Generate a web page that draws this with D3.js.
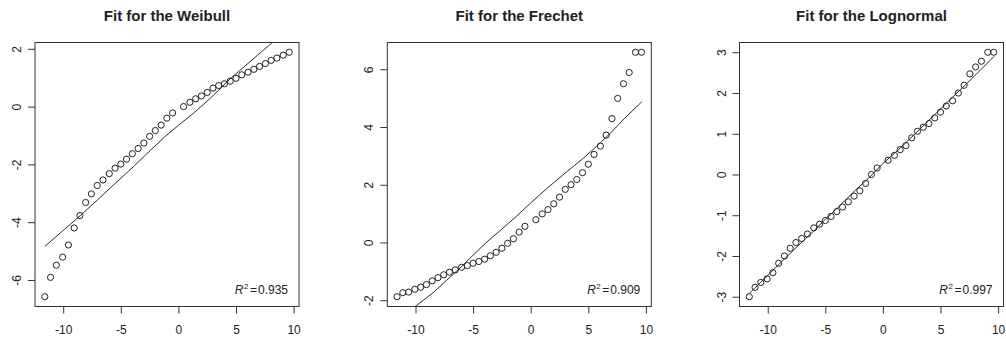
<!DOCTYPE html>
<html>
<head>
<meta charset="utf-8">
<script src="https://cdn.jsdelivr.net/npm/d3@7"></script>
<style>
  body { margin: 0; background: #fff; }
  svg { display: block; font-family: 'Liberation Sans', Arial, sans-serif; }
</style>
</head>
<body>
<div id="chart"></div>
<script>
// sample values (x axis, shared by the three panels)
const sampleX = [-11.6, -11.1, -10.6, -10.05, -9.55, -9.05, -8.55, -8.05, -7.55, -7.05,
  -6.55, -6.0, -5.5, -5.0, -4.5, -4.0, -3.5, -3.0, -2.5, -2.0, -1.5, -1.0, -0.5,
  0.45, 1.0, 1.5, 2.0, 2.5, 3.0, 3.5, 4.0, 4.5, 5.0, 5.5, 6.05, 6.55, 7.05, 7.55,
  8.05, 8.55, 9.1, 9.62];

// theoretical quantiles for each fitted distribution
const weibullY = [-6.58, -5.91, -5.49, -5.21, -4.79, -4.20, -3.77, -3.32, -3.02, -2.73,
  -2.54, -2.32, -2.13, -1.99, -1.82, -1.63, -1.45, -1.26, -1.03, -0.83, -0.64, -0.40,
  -0.22, 0.0, 0.15, 0.27, 0.37, 0.49, 0.64, 0.73, 0.79, 0.88, 0.98, 1.10, 1.19, 1.29,
  1.39, 1.49, 1.60, 1.68, 1.78, 1.88];
const frechetY = [-1.88, -1.74, -1.72, -1.62, -1.55, -1.46, -1.33, -1.22, -1.12, -1.03,
  -0.95, -0.86, -0.80, -0.72, -0.66, -0.58, -0.46, -0.34, -0.20, -0.03, 0.13, 0.36,
  0.56, 0.79, 0.99, 1.14, 1.34, 1.57, 1.84, 2.0, 2.18, 2.42, 2.71, 3.05, 3.34, 3.72,
  4.29, 4.99, 5.50, 5.89, 6.59, 6.59];
const lognormalY = [-3.0, -2.77, -2.65, -2.56, -2.41, -2.18, -2.0, -1.81, -1.67, -1.57,
  -1.46, -1.31, -1.22, -1.13, -1.03, -0.91, -0.80, -0.67, -0.53, -0.40, -0.22, 0.0,
  0.16, 0.35, 0.47, 0.61, 0.71, 0.90, 1.06, 1.16, 1.25, 1.39, 1.53, 1.68, 1.81, 2.0,
  2.19, 2.47, 2.64, 2.78, 3.0, 3.0];

// fitted lines
const lineX = [-11.6, -9.9, -8.5, -7, -5.9, -5, -3.8, -2.4, -1.2, 0, 1.4, 2.8, 4.6, 5.8, 6.9, 8.1, 9.65];
const weibullLine = [-4.84, -4.25, -3.77, -3.22, -2.81, -2.48, -2.04, -1.5, -1.05, -0.65,
  -0.2, 0.3, 1.0, 1.41, 1.79, 2.2, 2.74];
const frechetLine = [-2.7, -2.18, -1.75, -1.2, -0.8, -0.44, 0.02, 0.5, 0.92, 1.37,
  1.87, 2.34, 2.93, 3.36, 3.78, 4.28, 4.88];
const lognormalLine = [-2.92, -2.45, -2.06, -1.65, -1.36, -1.1, -0.78, -0.39, -0.08, 0.27,
  0.62, 1.0, 1.5, 1.83, 2.13, 2.46, 2.9];

const xTicks = [-10, -5, 0, 5, 10];
const weibullTicks = [-6, -4, -2, 0, 2];
const frechetTicks = [-2, 0, 2, 4, 6];
const lognormalTicks = [-3, -2, -1, 0, 1, 2, 3];

const titles = ['Fit for the Weibull', 'Fit for the Frechet', 'Fit for the Lognormal'];
const rSquared = ['0.935', '0.909', '0.997'];

const panels = [
  { title: titles[0], ys: weibullY, line: weibullLine, ticks: weibullTicks, r2: rSquared[0] },
  { title: titles[1], ys: frechetY, line: frechetLine, ticks: frechetTicks, r2: rSquared[1] },
  { title: titles[2], ys: lognormalY, line: lognormalLine, ticks: lognormalTicks, r2: rSquared[2] }
];

const width = 1006, height = 339;
const boxTop = 42.5, boxBottom = 306.5, boxSize = 264;
const boxLefts = [35, 387.3, 739.5];
const ink = '#222';
// R prints a plain hyphen for negatives
const tickLabel = d => String(d);

// R pads the data range by 4% on each side
function rDomain(values) {
  const [lo, hi] = d3.extent(values);
  const pad = (hi - lo) * 0.04;
  return [lo - pad, hi + pad];
}

const svg = d3.select('#chart').append('svg')
  .attr('width', width)
  .attr('height', height);

panels.forEach((p, i) => {
  const left = boxLefts[i], right = left + boxSize;
  const x = d3.scaleLinear().domain(rDomain(sampleX)).range([left, right]);
  const y = d3.scaleLinear().domain(rDomain(p.ys)).range([boxBottom, boxTop]);
  const g = svg.append('g').classed(`panel-${i}`, true);

  g.append('text')
    .attr('x', (left + right) / 2)
    .attr('y', 21)
    .attr('text-anchor', 'middle')
    .attr('font-weight', 'bold')
    .attr('font-size', 15)
    .attr('fill', ink)
    .text(p.title);

  const clipId = `clip-${i}`;
  g.append('clipPath').attr('id', clipId)
    .append('rect')
    .attr('x', left).attr('y', boxTop)
    .attr('width', boxSize).attr('height', boxBottom - boxTop);

  // fitted line
  g.append('path')
    .datum(d3.zip(lineX, p.line))
    .attr('clip-path', `url(#${clipId})`)
    .attr('fill', 'none')
    .attr('stroke', '#111')
    .attr('stroke-width', 0.9)
    .attr('d', d3.line().x(d => x(d[0])).y(d => y(d[1])));

  // points
  g.selectAll('circle')
    .data(d3.zip(sampleX, p.ys))
    .join('circle')
    .attr('cx', d => x(d[0]))
    .attr('cy', d => y(d[1]))
    .attr('r', 3.1)
    .attr('fill', 'none')
    .attr('stroke', ink)
    .attr('stroke-width', 1);

  // axes
  const xAxisEl = g.append('g')
    .attr('transform', `translate(0, ${boxBottom})`)
    .call(d3.axisBottom(x).tickValues(xTicks).tickFormat(tickLabel)
      .tickSize(7).tickPadding(12).tickSizeOuter(0));
  const yAxisEl = g.append('g')
    .attr('transform', `translate(${left}, 0)`)
    .call(d3.axisLeft(y).tickValues(p.ticks).tickFormat(tickLabel)
      .tickSize(7).tickSizeOuter(0));

  [xAxisEl, yAxisEl].forEach(ax => {
    ax.attr('font-size', 12).attr('font-family', null);
    ax.select('.domain').remove();
    ax.selectAll('.tick line').attr('stroke', '#333');
    ax.selectAll('.tick text').attr('fill', ink);
  });
  yAxisEl.selectAll('.tick text')
    .attr('x', null)
    .attr('dy', null)
    .attr('text-anchor', 'middle')
    .attr('transform', 'translate(-14, 0) rotate(-90)');

  // box
  g.append('rect')
    .attr('x', left).attr('y', boxTop)
    .attr('width', boxSize).attr('height', boxBottom - boxTop)
    .attr('fill', 'none')
    .attr('stroke', '#333')
    .attr('stroke-width', 1);

  // R squared label
  const r2 = g.append('text')
    .attr('x', right - 11)
    .attr('y', 293.5)
    .attr('text-anchor', 'end')
    .attr('font-size', 12)
    .attr('fill', ink);
  r2.append('tspan').attr('font-style', 'italic').text('R');
  r2.append('tspan').attr('font-size', 8).attr('dy', -5).attr('dx', 0.5).text('2');
  r2.append('tspan').attr('dy', 5).attr('dx', 1.5).text('=');
  r2.append('tspan').attr('dx', 1).text(p.r2);
});
</script>
</body>
</html>
